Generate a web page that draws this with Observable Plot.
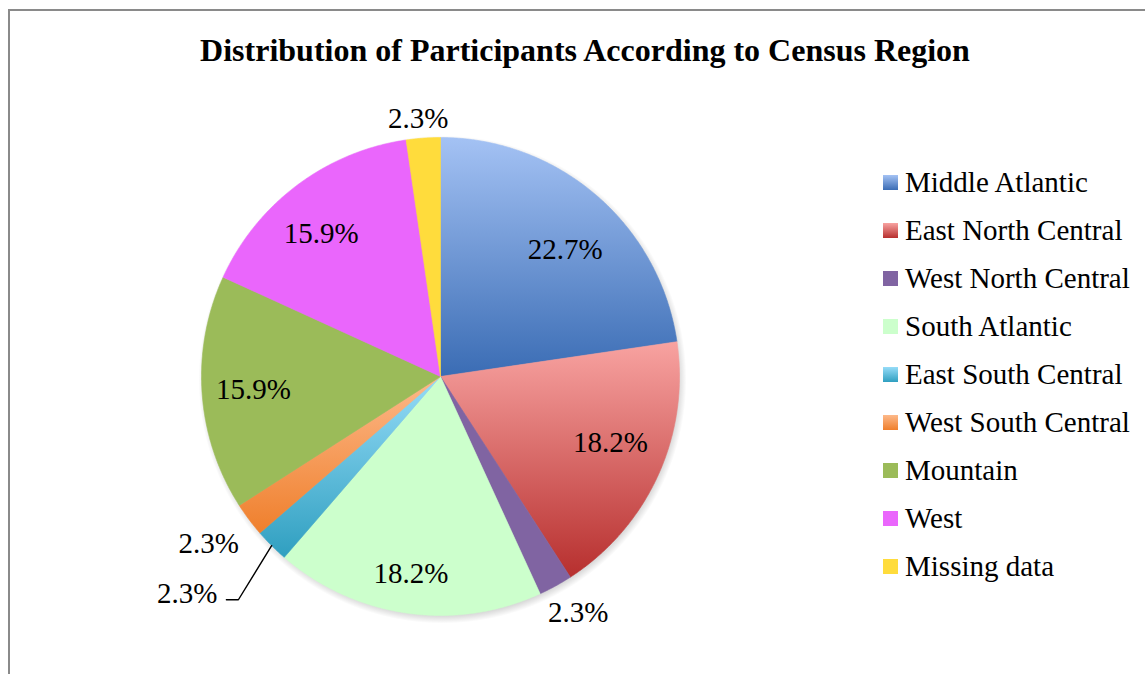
<!DOCTYPE html>
<html>
<head>
<meta charset="utf-8">
<script src="https://cdn.jsdelivr.net/npm/d3@7"></script>
<script src="https://cdn.jsdelivr.net/npm/@observablehq/plot@0.6"></script>
<style>
  html, body { margin: 0; padding: 0; background: #fff; }
  #wrap { position: relative; width: 1145px; height: 674px; overflow: hidden; background: #fff; font-family: "Liberation Serif", "Times New Roman", serif; }
  #frame { position: absolute; left: 8px; top: 9px; width: 1200px; height: 800px; border-left: 2px solid #8a8a8a; border-top: 2px solid #8a8a8a; }
  #title { position: absolute; left: 0; width: 1170px; top: 30px; text-align: center; font-weight: bold; font-size: 32px; line-height: 40px; color: #000; }
  #chart { position: absolute; left: 0; top: 0; }
  #legend { position: absolute; left: 883px; top: 158px; }
  .item { display: flex; align-items: center; height: 48.1px; font-size: 29px; color: #000; white-space: nowrap; }
  .sw { width: 15px; height: 15px; margin-right: 7px; flex: none; }
</style>
</head>
<body>
<div id="wrap">
  <div id="frame"></div>
  <div id="chart"></div>
  <div id="title">Distribution of Participants According to Census Region</div>
  <div id="legend"></div>
</div>
<script>
// ---- data ----
const categories = ["Middle Atlantic", "East North Central", "West North Central", "South Atlantic",
  "East South Central", "West South Central", "Mountain", "West", "Missing data"];
const percents = [22.7, 18.2, 2.3, 18.2, 2.3, 2.3, 15.9, 15.9, 2.3];
const labelTexts = ["22.7%", "18.2%", "2.3%", "18.2%", "2.3%", "2.3%", "15.9%", "15.9%", "2.3%"];

// ---- styles ----
const gradTop =    ["#a4c2f4", "#f8a3a1", "#8064a2", "#ccffcc", "#96dcf8", "#fdb98a", "#9bbb59", "#ea66fc", "#ffdc3c"];
const gradBottom = ["#3a6cb4", "#b72f2e", "#8064a2", "#ccffcc", "#2f9fc0", "#ef7f2c", "#9bbb59", "#ea66fc", "#ffdc3c"];
// label placement: radius as fraction of pie radius (null = label with leader line), angle shift in degrees
const labelRadius = [0.745, 0.764, 1.142, 0.834, null, 1.196, 0.785, 0.778, 1.083];
const labelShift  = [3.6, -3.0, -1.5, 0.4, 0, 1.0, 0, -3.0, -0.8];

const R = 239; // pixel radius
const cx = 440, cy = 376;
const W = 1145, H = 674;
const deg = Math.PI / 180;

const arcs = d3.pie().sort(null).value(d => d)(percents);

function pt(a, r) { return {x: Math.sin(a) * r, y: Math.cos(a) * r}; }

const sliceMarks = arcs.map((a, i) => {
  const pts = [{x: 0, y: 0}];
  const n = Math.max(4, Math.ceil((a.endAngle - a.startAngle) / 0.005));
  for (let k = 0; k <= n; k++) pts.push(pt(a.startAngle + (a.endAngle - a.startAngle) * k / n, 1));
  pts.push({x: 0, y: 0});
  return Plot.line(pts, {x: "x", y: "y", curve: "linear", fill: `url(#g${i})`, stroke: `url(#g${i})`, strokeWidth: 0.6});
});

const labels = [];
arcs.forEach((a, i) => {
  if (labelRadius[i] == null) return;
  const m = (a.startAngle + a.endAngle) / 2 + labelShift[i] * deg;
  labels.push({...pt(m, labelRadius[i]), text: labelTexts[i]});
});

// leader line for East South Central
const esc = arcs[4];
const escMid = (esc.startAngle + esc.endAngle) / 2;
const edge = pt(escMid, 1.0);
const elbow = pt(escMid - 2.8 * deg, 1.26);
const elbowEnd = {x: elbow.x - 12 / R, y: elbow.y};
const leader = [edge, elbow, elbowEnd];

const defs = () => {
  const d = d3.create("svg:defs");
  gradTop.forEach((c, i) => {
    const g = d.append("linearGradient").attr("id", `g${i}`).attr("x1", 0).attr("y1", 0).attr("x2", 0).attr("y2", 1);
    g.append("stop").attr("offset", "0%").attr("stop-color", c);
    g.append("stop").attr("offset", "100%").attr("stop-color", gradBottom[i]);
  });
  const s = d.append("radialGradient").attr("id", "shadow");
  s.append("stop").attr("offset", "0.94").attr("stop-color", "rgba(0,0,0,0.28)");
  s.append("stop").attr("offset", "1").attr("stop-color", "rgba(0,0,0,0)");
  return d.node();
};

const plot = Plot.plot({
  width: W, height: H,
  marginLeft: cx - R, marginRight: W - (cx + R),
  marginTop: cy - R, marginBottom: H - (cy + R),
  x: {domain: [-1, 1], axis: null},
  y: {domain: [-1, 1], axis: null},
  style: {background: "transparent", overflow: "visible"},
  marks: [
    defs,
    Plot.dot([0], {frameAnchor: "middle", r: R + 5, dx: 2, dy: 3, fill: "url(#shadow)", stroke: "none"}),
    ...sliceMarks,
    Plot.line(leader, {x: "x", y: "y", stroke: "black", strokeWidth: 1.4, curve: "linear"}),
    Plot.text(labels, {x: "x", y: "y", text: "text", fontSize: 29, fontFamily: "Liberation Serif", fill: "black"}),
    Plot.text([labelTexts[4]], {x: () => elbow.x, y: () => elbow.y, text: d => d, dx: -21, dy: -6, textAnchor: "end",
      fontSize: 29, fontFamily: "Liberation Serif", fill: "black"})
  ]
});
document.getElementById("chart").appendChild(plot);

const legend = d3.select("#legend");
categories.forEach((c, i) => {
  const it = legend.append("div").attr("class", "item");
  it.append("div").attr("class", "sw").style("background", `linear-gradient(${gradTop[i]}, ${gradBottom[i]})`);
  it.append("span").text(c);
});
</script>
</body>
</html>
